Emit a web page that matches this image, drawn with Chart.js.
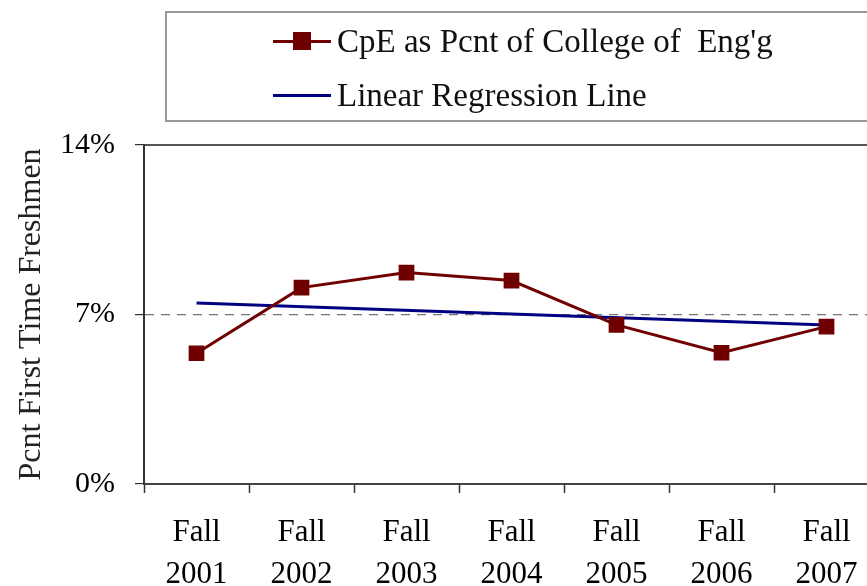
<!DOCTYPE html>
<html>
<head>
<meta charset="utf-8">
<script src="https://cdn.jsdelivr.net/npm/chart.js@4/dist/chart.umd.min.js"></script>
<style>
  html, body { margin: 0; padding: 0; background: #fff; overflow: hidden; }
  #wrap { position: relative; width: 867px; height: 586px; overflow: hidden; }
  #legend {
    position: absolute; left: 165px; top: 11px; width: 730px; height: 111px;
    border: 2px solid #999; box-sizing: border-box;
    font-family: "Liberation Serif", serif; font-size: 33px; color: #111;
  }
  .row { position: absolute; left: 106px; height: 36px; display: flex; align-items: center; }
  .swatch { position: relative; width: 58px; height: 3px; margin-right: 6px; }
  .mark { position: absolute; left: 20px; top: -8px; width: 18px; height: 18px; }
</style>
</head>
<body>
<div id="wrap">
  <canvas id="chart" width="891" height="586"></canvas>
  <div id="legend">
    <div class="row" style="top:10px">
      <span class="swatch" style="background:#700000"><span class="mark" style="background:#700000"></span></span>
      <span>CpE as Pcnt of College of&nbsp; Eng'g</span>
    </div>
    <div class="row" style="top:64px">
      <span class="swatch" style="background:#000080"></span>
      <span>Linear Regression Line</span>
    </div>
  </div>
</div>
<script>
const years = ['2001', '2002', '2003', '2004', '2005', '2006', '2007'];
const cpePercent = [5.40, 8.11, 8.73, 8.40, 6.57, 5.42, 6.50];
// regression line read at its two ends only
const regression = [7.48, null, null, null, null, null, 6.57];
const yTicks = [0, 7, 14];

const labels = years.map(y => ['Fall', y]);
const serif = 'Liberation Serif';

new Chart(document.getElementById('chart'), {
  type: 'line',
  data: {
    labels: labels,
    datasets: [{
      label: "CpE as Pcnt of College of  Eng'g",
      data: cpePercent,
      borderColor: '#700000',
      backgroundColor: '#700000',
      borderWidth: 3,
      pointStyle: 'rect',
      pointRadius: 9,
      pointHoverRadius: 9,
      tension: 0
    }, {
      label: 'Linear Regression Line',
      data: regression,
      borderColor: '#000080',
      borderWidth: 3,
      pointRadius: 0,
      spanGaps: true,
      tension: 0
    }]
  },
  options: {
    responsive: false,
    animation: false,
    layout: { padding: { top: 145, left: 0, right: 2, bottom: 0 } },
    plugins: { legend: { display: false }, tooltip: { enabled: false } },
    scales: {
      x: {
        type: 'category',
        offset: true,
        grid: { offset: true, drawOnChartArea: false, tickLength: 9, tickColor: '#333', tickWidth: 1.5 },
        border: { color: '#444', width: 2 },
        ticks: { color: '#000', padding: 19, maxRotation: 0, font: { family: serif, size: 31, lineHeight: 1.36 } },
        afterFit: s => { s.height = 102; }
      },
      xTop: {
        type: 'category',
        position: 'top',
        offset: true,
        grid: { display: false },
        border: { color: '#555', width: 2 },
        ticks: { display: false },
        afterFit: s => { s.height = 0; }
      },
      y: {
        min: 0,
        max: 14,
        afterBuildTicks: s => { s.ticks = yTicks.map(v => ({ value: v })); },
        grid: {
          color: c => c.tick && c.tick.value === 7 ? '#777' : 'rgba(0,0,0,0)',
          lineWidth: 1.2,
          tickColor: '#333',
          tickLength: 9
        },
        border: { color: '#333', width: 2, dash: [9, 7] },
        ticks: { color: '#000', padding: 20, callback: v => v + '%', font: { family: serif, size: 30 } },
        title: { display: true, text: 'Pcnt First Time Freshmen', color: '#222', padding: 12, font: { family: serif, size: 32 } },
        afterFit: s => { s.width = 144; }
      }
    }
  }
});
</script>
</body>
</html>
